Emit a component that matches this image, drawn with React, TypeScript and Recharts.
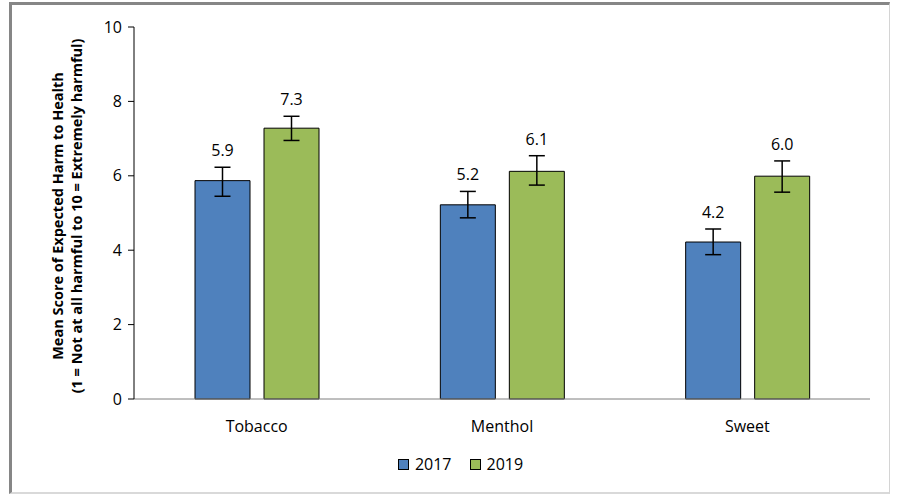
import React from 'react'
import { BarChart, Bar, XAxis, YAxis, ErrorBar, LabelList, Legend } from 'recharts'

const categories = ['Tobacco', 'Menthol', 'Sweet']
const mean2017 = [5.87, 5.22, 4.22]
const mean2019 = [7.28, 6.12, 5.99]
const lower2017 = [5.45, 4.87, 3.88]
const upper2017 = [6.23, 5.58, 4.57]
const lower2019 = [6.95, 5.75, 5.56]
const upper2019 = [7.6, 6.54, 6.4]
const yTicks = [0, 2, 4, 6, 8, 10]

const data = categories.map((name, i) => ({
  name,
  y2017: mean2017[i],
  y2019: mean2019[i],
  err2017: [mean2017[i] - lower2017[i], upper2017[i] - mean2017[i]],
  err2019: [mean2019[i] - lower2019[i], upper2019[i] - mean2019[i]],
}))

const FONT = '"Open Sans", sans-serif'
const BLUE = '#4F81BD'
const GREEN = '#9BBB59'

// value label sits above the top of the error bar
function makeLabel(uppers: number[]) {
  return (props: any) => {
    const { x, y, width, height, value, index } = props
    const perUnit = height / value
    const topY = y - (uppers[index] - value) * perUnit
    return (
      <text x={x + width / 2} y={topY - 11} textAnchor="middle" fontFamily={FONT} fontSize={16} fill="#000">
        {Number(value).toFixed(1)}
      </text>
    )
  }
}

function YLabel(props: any) {
  const { viewBox } = props
  const cy = viewBox.y + viewBox.height / 2 + 3
  return (
    <g>
      <text x={63} y={cy} transform={`rotate(-90, 63, ${cy})`} textAnchor="middle" fontFamily={FONT} fontSize={14.5} fontWeight="bold" fill="#000">
        Mean Score of Expected Harm to Health
      </text>
      <text x={82} y={cy} transform={`rotate(-90, 82, ${cy})`} textAnchor="middle" fontFamily={FONT} fontSize={14.5} fontWeight="bold" fill="#000">
        (1 = Not at all harmful to 10 = Extremely harmful)
      </text>
    </g>
  )
}

function LegendContent() {
  const items = [
    { label: '2017', color: BLUE },
    { label: '2019', color: GREEN },
  ]
  return (
    <div style={{ display: 'flex', justifyContent: 'center', gap: 18, fontFamily: FONT, fontSize: 16 }}>
      {items.map((it) => (
        <div key={it.label} style={{ display: 'flex', alignItems: 'center', gap: 6 }}>
          <span style={{ width: 9, height: 9, background: it.color, border: '1px solid #000', display: 'inline-block' }} />
          <span>{it.label}</span>
        </div>
      ))}
    </div>
  )
}

export default function App() {
  return (
    <div style={{ position: 'absolute', left: 0, top: 0, width: 901, height: 494, background: '#fff' }}>
      <div
        style={{
          position: 'absolute', left: 9, top: 2, width: 877, height: 487,
          borderTop: '3px solid #868686', borderLeft: '3px solid #868686',
          borderRight: '1px solid #d4d4d4', borderBottom: '2px solid #d9d9d9',
        }}
      />
      <div style={{ position: 'absolute', left: 0, top: 0 }}>
        <BarChart
          width={901}
          height={494}
          data={data}
          margin={{ top: 27, right: 31, bottom: 65, left: 0 }}
          barCategoryGap="24.5%"
          barGap={14}
        >
          <XAxis
            dataKey="name"
            height={30}
            tickLine={false}
            axisLine={{ stroke: '#7f7f7f' }}
            tickMargin={16}
            tick={{ fontFamily: FONT, fontSize: 16, fill: '#000' }}
          />
          <YAxis
            width={134}
            domain={[0, 10]}
            ticks={yTicks}
            tickSize={6}
            tickMargin={6}
            axisLine={{ stroke: '#000' }}
            tickLine={{ stroke: '#000' }}
            tick={{ fontFamily: FONT, fontSize: 16, fill: '#000' }}
            label={{ content: YLabel }}
          />
          <Legend
            layout="horizontal"
            verticalAlign="middle"
            align="center"
            content={LegendContent}
            wrapperStyle={{ position: 'absolute', top: 453, left: 10, width: 901 }}
          />
          <Bar dataKey="y2017" name="2017" fill={BLUE} stroke="#000" strokeWidth={1} barSize={55} isAnimationActive={false}>
            <ErrorBar dataKey="err2017" width={8} stroke="#000" strokeWidth={1.5} />
            <LabelList dataKey="y2017" content={makeLabel(upper2017)} />
          </Bar>
          <Bar dataKey="y2019" name="2019" fill={GREEN} stroke="#000" strokeWidth={1} barSize={55} isAnimationActive={false}>
            <ErrorBar dataKey="err2019" width={8} stroke="#000" strokeWidth={1.5} />
            <LabelList dataKey="y2019" content={makeLabel(upper2019)} />
          </Bar>
        </BarChart>
      </div>
    </div>
  )
}
